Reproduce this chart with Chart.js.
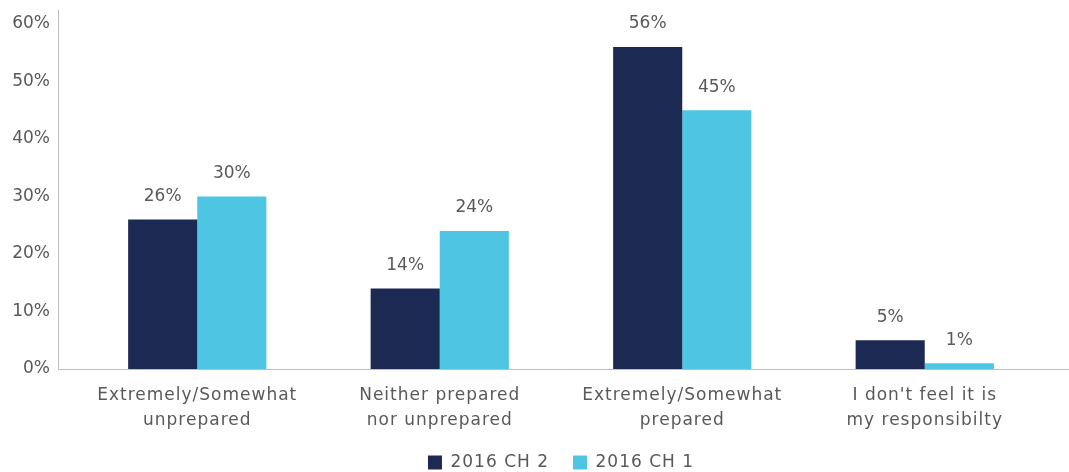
<!DOCTYPE html>
<html>
<head>
<meta charset="utf-8">
<script src="https://cdn.jsdelivr.net/npm/chart.js@4/dist/chart.umd.min.js"></script>
<style>
  html, body { margin: 0; padding: 0; background: #ffffff; }
  #wrap { width: 1069px; height: 472px; position: relative; }
</style>
</head>
<body>
<div id="wrap"><canvas id="chart"></canvas></div>
<script>
// Survey responses: how prepared respondents feel
const categories = [
  ['Extremely/Somewhat', 'unprepared'],
  ['Neither prepared', 'nor unprepared'],
  ['Extremely/Somewhat', 'prepared'],
  ["I don't feel it is", 'my responsibilty']
];
const seriesNames = ['2016 CH 2', '2016 CH 1'];
const ch2Values = [26, 14, 56, 5];
const ch1Values = [30, 24, 45, 1];
const yTicks = [0, 10, 20, 30, 40, 50, 60];

const TEXT = '#595959';
const FONT = '"DejaVu Sans", sans-serif';
const FONT_SIZE = 17;
const AXIS_GAP = 18;
const WORD_SPACING = '1px';

// Slightly open letter spacing for the word labels (category names, legend)
const openText = {
  id: 'openText',
  beforeLayout(chart) { chart.ctx.letterSpacing = WORD_SPACING; },
  beforeDraw(chart) { chart.ctx.letterSpacing = WORD_SPACING; },
  afterLayout(chart) {
    const ys = chart.scales.y;
    if (ys && !ys._tightLabels) {
      const draw = ys.drawLabels.bind(ys);
      ys.drawLabels = (area) => {
        const ctx = chart.ctx;
        ctx.save();
        ctx.letterSpacing = '0px';
        draw(area);
        ctx.restore();
      };
      ys._tightLabels = true;
    }
  }
};

// Axis lines sit a little left of the plotting area, baseline runs to the edge
const axisLines = {
  id: 'axisLines',
  beforeDatasetsDraw(chart) {
    const { ctx, chartArea } = chart;
    const x0 = chartArea.left - AXIS_GAP;
    ctx.save();
    ctx.strokeStyle = '#bfbfbf';
    ctx.lineWidth = 1;
    ctx.beginPath();
    ctx.moveTo(x0 + 0.5, chartArea.top - 14);
    ctx.lineTo(x0 + 0.5, chartArea.bottom + 0.5);
    ctx.lineTo(chart.width, chartArea.bottom + 0.5);
    ctx.stroke();
    ctx.restore();
  }
};

// Percentage labels above each bar
const valueLabels = {
  id: 'valueLabels',
  afterDatasetsDraw(chart) {
    const { ctx } = chart;
    ctx.save();
    ctx.letterSpacing = '0px';
    ctx.font = FONT_SIZE + 'px ' + FONT;
    ctx.fillStyle = TEXT;
    ctx.textAlign = 'center';
    ctx.textBaseline = 'middle';
    chart.data.datasets.forEach((ds, di) => {
      chart.getDatasetMeta(di).data.forEach((bar, i) => {
        ctx.fillText(ds.data[i] + '%', bar.x, bar.y - 23);
      });
    });
    ctx.restore();
  }
};

// Centre the legend under the plotting area and set its row
const legendUnderPlot = {
  id: 'legendUnderPlot',
  afterLayout(chart) {
    const lg = chart.legend;
    if (!lg) return;
    const shift = (chart.chartArea.left + chart.chartArea.right) / 2 - (lg.left + lg.right) / 2;
    lg.left += shift;
    lg.right += shift;
    lg.top -= 17;
    lg.bottom -= 17;
  }
};

new Chart(document.getElementById('chart'), {
  type: 'bar',
  data: {
    labels: categories,
    datasets: [
      { label: seriesNames[0], data: ch2Values, backgroundColor: '#1c2952' },
      { label: seriesNames[1], data: ch1Values, backgroundColor: '#4ec6e3' }
    ]
  },
  options: {
    responsive: true,
    maintainAspectRatio: false,
    animation: false,
    devicePixelRatio: 1,
    categoryPercentage: 0.57,
    barPercentage: 1.0,
    layout: { padding: { top: 24, right: 23, left: 0, bottom: -26 } },
    plugins: {
      tooltip: { enabled: false },
      legend: {
        position: 'bottom',
        labels: {
          color: TEXT,
          font: { family: FONT, size: FONT_SIZE },
          boxWidth: 14,
          boxHeight: 14,
          padding: 24
        }
      }
    },
    scales: {
      x: {
        grid: { display: false, drawTicks: false },
        border: { display: false },
        ticks: {
          color: TEXT,
          font: { family: FONT, size: FONT_SIZE, lineHeight: 1.47 },
          padding: 14,
          maxRotation: 0
        }
      },
      y: {
        min: 0,
        max: 60,
        afterBuildTicks(scale) { scale.ticks = yTicks.map(v => ({ value: v })); },
        afterFit(scale) { scale.width = 76; },
        grid: { display: false, drawTicks: true, tickLength: 26 },
        border: { display: false },
        ticks: {
          color: TEXT,
          font: { family: FONT, size: FONT_SIZE },
          padding: 0,
          callback: v => v + '%'
        }
      }
    }
  },
  plugins: [openText, axisLines, valueLabels, legendUnderPlot]
});
</script>
</body>
</html>
